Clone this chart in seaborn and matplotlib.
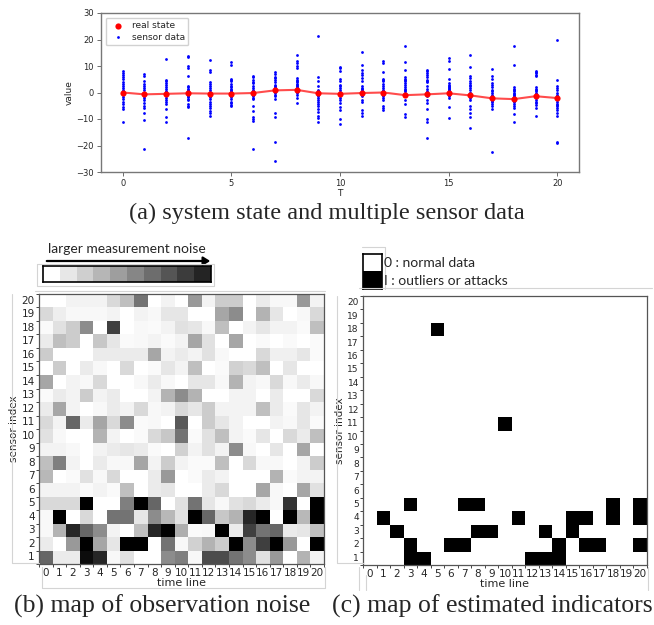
import numpy as np
import pandas as pd
import matplotlib
matplotlib.use("Agg")
import matplotlib.pyplot as plt
from matplotlib.lines import Line2D
import seaborn as sns

# ---- data: (a) real state and sensor readings per time step ----
T = list(range(21))
real_state = [0, -0.7, -0.5, -0.3, -0.4, -0.4, -0.2, 0.8, 1.0, -0.3, -0.5,
              -0.2, 0.0, -1.0, -0.7, -0.3, -1.1, -2.2, -2.5, -1.4, -2.1]

sensor_data = [
    [8, 7.4, 6.7, 6, 5, 4, 3.2, 2.4, 1.6, 0.8, 0.2, -0.3, -0.9, -1.8, -2.6, -3.4, -4.3, -5.3, -6.3, -11],
    [7, 6.3, 4.2, 3.3, 2.5, 1.7, 0.8, 0, -0.8, -1.5, -2.2, -2.8, -4, -5.2, -5.9, -7.7, -10.2, -21.3, -0.5, -1.2],
    [12.5, 4.8, 4.2, 3.5, 2.8, 2, 1.2, 0.5, -0.3, -0.8, -1.5, -2.2, -2.8, -3.5, -4.3, -6.1, -9.1, -11, 0.1, -1.1],
    [13.8, 13.3, 10.1, 9.2, 6.1, 2.6, 2.1, 1.3, 0.8, 0.3, -0.3, -0.9, -1.7, -2.3, -2.8, -4.2, -5, -5.6, -17.2, -1.2],
    [12.4, 8.5, 7.9, 3.8, 3.3, 2.5, 1.7, 1, 0.3, -0.5, -1.2, -1.8, -2.5, -3.4, -4.2, -5, -5.9, -6.9, -7.8, -8.7],
    [11.6, 10.2, 5.2, 4.6, 4.2, 3.3, 2.5, 2, 1.3, 0.8, 0.4, -0.2, -0.6, -1.1, -1.6, -2.4, -3.4, -4, -4.6, -5.2],
    [6.3, 5.7, 4.8, 4, 3.5, 2.6, 1.7, 1, 0.4, -0.2, -0.8, -1.5, -2, -2.5, -5.2, -6.9, -9.3, -10, -10.6, -21.2],
    [7.6, 6.8, 5.9, 5.3, 4.8, 3.8, 2.9, 2.3, 2, 1.5, 1, 0.5, 0, -0.8, -1.5, -2.5, -7.8, -9.3, -18.7, -25.7],
    [14.1, 12, 11, 10, 9.2, 5.4, 4.8, 4.3, 3.8, 3.3, 2.9, 2.4, 2, 1.5, 1, 0.4, 0, -0.9, -2.1, -4],
    [21.3, 6, 4.2, 2.6, 1, 0.5, 0, -0.2, -0.8, -1.5, -2.1, -2.7, -3.5, -4.2, -5, -6.3, -7.5, -9, -9.8, -11],
    [9.8, 9.2, 8, 5.1, 4.2, 2.9, 2.3, 1.7, 0.8, 0.3, -0.2, -0.7, -1.2, -2, -2.7, -4, -5.5, -6.7, -10, -11.8],
    [15.4, 10.5, 8.6, 7.5, 6.7, 5.3, 4.2, 2.6, 1.7, 1.2, 0.8, 0.3, -0.2, -0.8, -1.5, -2.7, -3.7, -6.5, -7.7, -9],
    [12, 11, 7.6, 5.1, 4.6, 4.2, 3.2, 2.6, 1.7, 1, 0.4, 0, -0.5, -1, -1.5, -2.1, -2.7, -5, -5.7, -6.5],
    [17.6, 11.4, 8.6, 5.8, 5.1, 4.6, 4.2, 3.5, 2.9, 2.1, 1.5, 1, 0.5, 0, -0.8, -1.5, -2.7, -4.2, -8, -9.3],
    [8.6, 8, 7.3, 6.7, 5.8, 4.8, 4.2, 3.8, 2.6, 1.3, 0.5, 0, -0.8, -1.5, -2.7, -4, -6.3, -10, -11.2, -17],
    [13, 11.7, 8.9, 5.2, 3.5, 2.9, 2.5, 2, 1.6, 1.3, 0.9, 0.4, 0, -0.5, -1, -1.5, -2.1, -5.5, -9.8, 0.6],
    [14, 9.5, 6.3, 5.4, 4.2, 3.5, 2.9, 2.3, 1.7, 0.8, 0, -0.2, -1.2, -2, -2.7, -5, -6.3, -7.7, -9.3, -13.4],
    [8.9, 6.3, 5.1, 3.6, 2.8, 2.1, 1, 0.4, -0.2, -0.9, -1.3, -1.7, -2.2, -2.7, -3.2, -3.7, -4.3, -5, -6.3, -22.5],
    [17.4, 10.2, 2, 1.5, 1, 0.5, 0, -0.4, -0.9, -1.5, -2.1, -2.5, -2.7, -3.2, -3.7, -4.3, -5, -5.9, -8, -11.2],
    [8, 7.6, 7.3, 6.7, 6.1, 2.1, 1.5, 1, 0.4, -0.2, -0.7, -1.2, -1.6, -2.1, -2.7, -3.4, -4, -4.6, -5.9, -9],
    [19.9, 4.8, 2.6, 1.8, 0.8, 0, -0.9, -1.5, -2.1, -2.7, -3.4, -4.2, -4.7, -5.2, -6, -6.7, -7.7, -8.8, -18.5, -19.1],
]

# ---- data: (b) observation noise level, one row per sensor (1..20), columns = time 0..20 ----
sensors = list(range(1, 21))
noise_by_sensor = {
    1:  [6, 0.8, 0.8, 9.5, 8.5, 0.3, 1.2, 0, 0, 4.5, 5, 0.3, 7, 7, 5.5, 4.5, 1.2, 4, 0, 3, 0.5],
    2:  [0.8, 0, 4, 10, 3.5, 1, 10, 10, 0, 5.5, 0.3, 1.8, 3, 2, 10, 4.5, 7.5, 10, 4, 0, 10],
    3:  [0.3, 3, 8.5, 6, 4.5, 0.5, 0, 2.5, 8.5, 10, 3.2, 0.2, 0.3, 10, 0.8, 7.5, 5.5, 6, 0.8, 1, 2.5],
    4:  [0.3, 10, 0, 1.5, 0, 5.5, 5.5, 1, 4.5, 2.8, 1.2, 10, 6, 2.2, 3, 8.5, 10, 0, 10, 2.8, 10],
    5:  [1.5, 1.5, 1.5, 10, 0, 0, 5, 10, 6, 0, 1.2, 5.5, 1, 0.3, 1.2, 1.5, 0.8, 0.3, 8, 0, 10],
    6:  [0.5, 0.5, 0.5, 0.2, 0.5, 0.2, 2.5, 0, 0.8, 1, 0, 0, 0.8, 1.5, 0, 0, 3.5, 0.3, 0, 3.5, 1.2],
    7:  [2.8, 0, 0.2, 1.2, 0.3, 1.5, 0, 0, 0.8, 4, 0, 0.2, 0.8, 0.5, 0, 0, 0, 3, 0.2, 0.5, 0.5],
    8:  [2.5, 5, 0.5, 0, 0.8, 0.3, 0.3, 3.5, 0.5, 2, 0.5, 0.2, 0.2, 2.5, 0, 1.5, 0.3, 0.3, 0, 0.5, 2],
    9:  [0.5, 0.5, 0.3, 0, 0.5, 0.8, 1, 0.8, 0.2, 0, 1.8, 0.5, 1.2, 0.5, 4.5, 0.3, 0, 1, 0, 3.5, 0],
    10: [1.2, 0.3, 0, 0, 3, 0.5, 0, 0.2, 1.5, 2.2, 5.5, 0.2, 1.2, 2.5, 0.5, 0.2, 1, 0, 1.5, 0.8, 2.5],
    11: [1.5, 0.5, 6, 0.8, 3.5, 1.5, 4.5, 0.2, 0.3, 0, 6.5, 0, 2, 1, 0.5, 0, 0, 0.5, 0.3, 1, 0.2],
    12: [0.8, 3.5, 0.5, 0, 0.3, 0.8, 0.5, 1.5, 0.3, 0.5, 1.5, 1, 2, 0.5, 0.5, 0.5, 2.5, 0.8, 0.2, 1, 0.5],
    13: [0.2, 0.8, 0.5, 2, 0.5, 0.8, 0, 0, 0.5, 3, 4.5, 3, 0, 0, 0.5, 0.5, 0, 0.8, 0, 0, 1.5],
    14: [3.5, 0, 0.5, 0.3, 1.5, 0, 0, 0.3, 0.8, 0.3, 0, 1, 1, 0.3, 3, 0.5, 0.3, 1.5, 0.3, 0.8, 0.3],
    15: [0, 2, 0, 0.8, 0.3, 0, 1.5, 0, 0.2, 1, 0.5, 2.5, 0, 0.2, 1.8, 1.5, 2.5, 0, 1, 0, 0],
    16: [2, 0, 0, 0, 0.8, 0.8, 0.8, 0.8, 3.5, 0.5, 0.8, 0.5, 1.2, 0.3, 0, 0, 1.5, 0.6, 0.6, 1, 0.2],
    17: [0.8, 2.5, 2, 0, 2.2, 1, 0.2, 0.3, 0.5, 0.2, 0.5, 3.5, 1.2, 0, 3.5, 0, 0.2, 0, 0.2, 0, 0.2],
    18: [0.2, 1.2, 2, 4.5, 0, 7.5, 0, 0.3, 0.2, 0.5, 1.2, 1, 0.3, 2.5, 0, 0.5, 1, 0.5, 0.5, 0.2, 2.5],
    19: [1.5, 0.7, 0.3, 0.3, 0.3, 0.5, 0, 0.5, 0.3, 1, 1, 0, 0, 3.5, 4.5, 0, 3, 1, 0, 0.3, 1.5],
    20: [0, 0, 0.5, 0.5, 0.5, 1.5, 2.5, 5.5, 0, 0.5, 0, 4, 0.5, 2, 2, 0, 0.8, 0.3, 0.3, 4, 0.5],
}

# ---- data: (c) estimated indicators, times flagged as outlier/attack per sensor ----
flagged_times = {
    1: [3, 4, 12, 13, 14],
    2: [3, 6, 7, 14, 16, 17, 20],
    3: [2, 8, 9, 13, 15],
    4: [1, 11, 15, 16, 18, 20],
    5: [3, 7, 8, 18, 20],
    11: [10],
    18: [5],
}

legend_levels = list(range(10))

# ---- build tables ----
sensor_df = pd.DataFrame([(t, v) for t, vals in zip(T, sensor_data) for v in vals],
                         columns=["T", "value"])
noise_df = pd.DataFrame([noise_by_sensor[s] for s in sensors[::-1]],
                        index=sensors[::-1], columns=T)
flag_df = pd.DataFrame(0, index=sensors[::-1], columns=T)
for s, times in flagged_times.items():
    flag_df.loc[s, times] = 1

sns.set_style("white")
plt.rcParams["font.family"] = ["DejaVu Sans"]

W, H = 654, 625
fig = plt.figure(figsize=(W / 100, H / 100), dpi=100)


def box(x0, y0, x1, y1):
    # pixel coords (top-left origin) -> figure fraction
    return [x0 / W, 1 - y1 / H, (x1 - x0) / W, (y1 - y0) / H]


# ---------------- (a) ----------------
ax = fig.add_axes(box(101, 13, 579, 172))
sns.lineplot(x=T, y=real_state, color="red", alpha=0.7, lw=1.5, ax=ax, zorder=2)
sns.scatterplot(data=sensor_df, x="T", y="value", color="blue", s=4, linewidth=0,
                label="sensor data", ax=ax, zorder=3)
sns.scatterplot(x=T, y=real_state, color="red", s=20, linewidth=0,
                label="real state", ax=ax, zorder=4)
ax.set_xlim(-1, 21)
ax.set_ylim(-30, 30)
ax.set_xticks([0, 5, 10, 15, 20])
ax.set_yticks([-30, -20, -10, 0, 10, 20, 30])
ax.tick_params(labelsize=6, length=3, width=0.6, color="#555", pad=2, left=True, bottom=True)
ax.set_xlabel("T", fontsize=6.5, labelpad=1)
ax.set_ylabel("value", fontsize=6.5, labelpad=2)
for sp in ax.spines.values():
    sp.set_color("#777")
    sp.set_linewidth(1)
h, l = ax.get_legend_handles_labels()
ax.legend([h[1], h[0]], [l[1], l[0]], loc="upper left", fontsize=6.5,
          markerscale=1.0, handletextpad=0.5, borderpad=0.4, labelspacing=0.3,
          frameon=True, framealpha=0.9)

fig.text(0.5, 1 - 213 / H, "(a) system state and multiple sensor data",
         ha="center", va="center", family="Liberation Serif", fontsize=17.5)


def style_map(ax, ylab_size):
    ax.set_xticks(np.arange(21) + 0.5)
    ax.set_xticklabels(T, rotation=0)
    ax.set_yticks(np.arange(20) + 0.5)
    ax.set_yticklabels(sensors[::-1], rotation=0)
    ax.set_xticks(np.arange(22), minor=True)
    ax.set_yticks(np.arange(21), minor=True)
    ax.tick_params(which="major", length=0, pad=3)
    ax.tick_params(axis="x", which="major", labelsize=7.5)
    ax.tick_params(axis="y", which="major", labelsize=ylab_size)
    ax.tick_params(which="minor", length=2.5, width=0.7, color="#444",
                   bottom=True, left=True)
    ax.set_xlabel("time line", fontsize=8, labelpad=0)
    ax.set_ylabel("sensor index", fontsize=7.5, labelpad=2)
    for sp in ax.spines.values():
        sp.set_visible(True)
        sp.set_color("#555")
        sp.set_linewidth(0.9)


# ---------------- (b) ----------------
axb = fig.add_axes(box(39, 294, 324, 564))
sns.heatmap(noise_df, cmap="gray_r", vmin=0, vmax=10, cbar=False, ax=axb)
style_map(axb, 7.5)

axl = fig.add_axes(box(43, 266, 211, 282))
sns.heatmap(pd.DataFrame([legend_levels]), cmap="gray_r", vmin=0, vmax=10.5,
            cbar=False, ax=axl, xticklabels=False, yticklabels=False)
for sp in axl.spines.values():
    sp.set_visible(True)
    sp.set_color("black")
    sp.set_linewidth(1.2)
fig.text(127 / W, 1 - 249 / H, "larger measurement noise", ha="center", va="center",
         family="Lato", fontsize=10)
fig.add_artist(matplotlib.patches.FancyArrowPatch(
    (44 / W, 1 - 261 / H), (213 / W, 1 - 261 / H), transform=fig.transFigure,
    arrowstyle="-|>,head_length=4,head_width=2.5", lw=1.6, color="black"))

fig.text(162 / W, 1 - 606 / H, "(b) map of observation noise",
         ha="center", va="center", family="Liberation Serif", fontsize=18.5)

# ---------------- (c) ----------------
axc = fig.add_axes(box(363, 296, 647, 565))
sns.heatmap(flag_df, cmap="Greys", vmin=0, vmax=1, cbar=False, ax=axc)
style_map(axc, 6.5)

axk = fig.add_axes(box(363, 254, 382, 289))
sns.heatmap(pd.DataFrame([[0], [1]]), cmap="Greys", vmin=0, vmax=1, cbar=False,
            ax=axk, xticklabels=False, yticklabels=False)
for sp in axk.spines.values():
    sp.set_visible(True)
    sp.set_color("black")
    sp.set_linewidth(1.2)
fig.text(384 / W, 1 - 263 / H, "0 : normal data", ha="left", va="center",
         family="Lato", fontsize=10)
fig.text(384 / W, 1 - 281 / H, "I : outliers or attacks", ha="left", va="center",
         family="Lato", fontsize=10)

fig.text(492 / W, 1 - 606 / H, "(c) map of estimated indicators",
         ha="center", va="center", family="Liberation Serif", fontsize=18.5)

# faint frames left over from the pasted sub-images
frame_lines = [
    [(37, 264), (214, 264), (214, 286), (37, 286), (37, 264)],
    [(35, 291), (325, 291)],
    [(12, 294), (12, 563), (39, 563)],
    [(42, 567), (42, 588), (325, 588), (325, 567)],
    [(362, 247), (385, 247), (385, 289)],
    [(359, 288), (652, 288)],
    [(337, 296), (337, 563), (363, 563)],
    [(359, 567), (359, 590)],
    [(366, 575), (366, 590)],
    [(648, 567), (648, 590)],
]
for pts in frame_lines:
    xs = [p[0] / W for p in pts]
    ys = [1 - p[1] / H for p in pts]
    fig.add_artist(Line2D(xs, ys, transform=fig.transFigure, color="#d4d4d4", lw=0.8))

fig.savefig("out.png", dpi=100)
